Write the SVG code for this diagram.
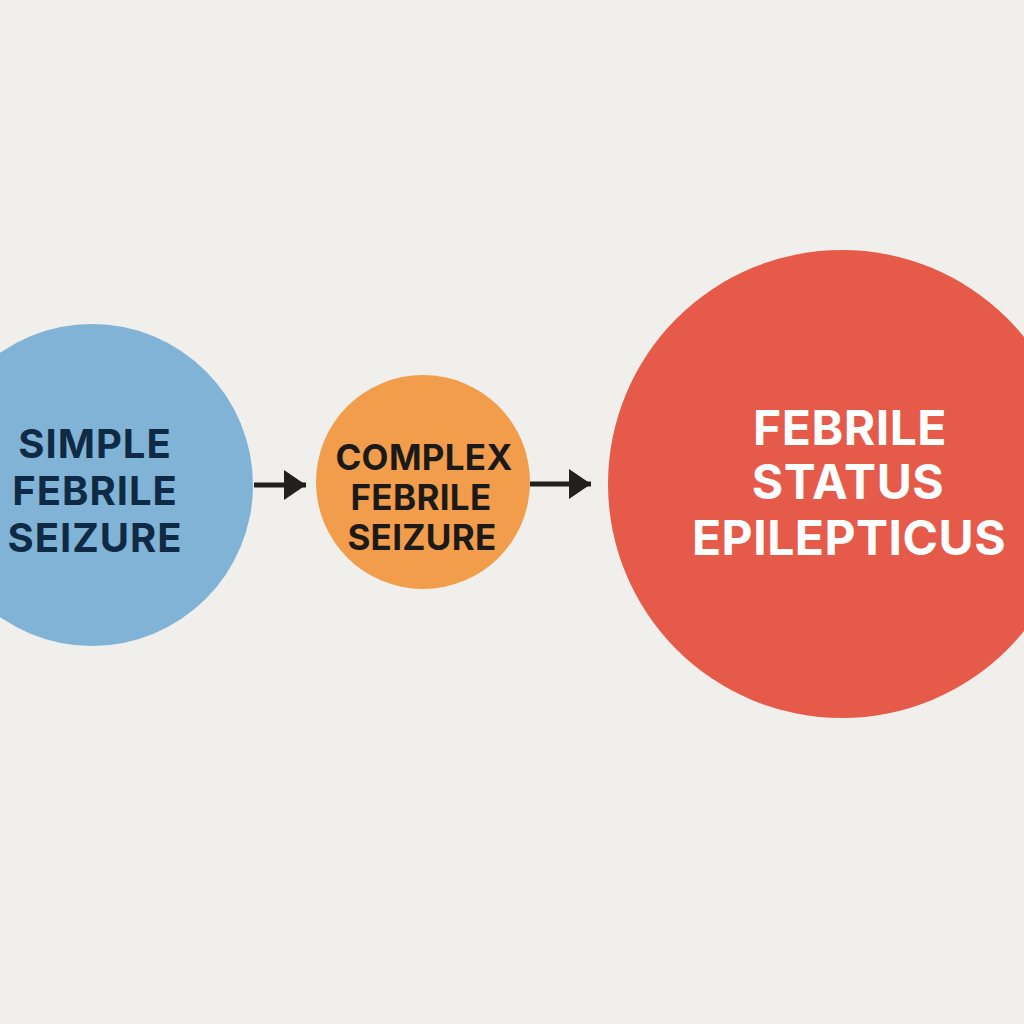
<svg xmlns="http://www.w3.org/2000/svg" width="1024" height="1024" viewBox="0 0 1024 1024">
<style>
.lbl{font-family:Inter,"Liberation Sans",sans-serif;font-weight:700;text-anchor:middle}
.conn{stroke:#231f1d;stroke-width:5;fill:none}
</style>
<defs>
<marker id="ah" viewBox="0 0 10 10" refX="10" refY="5" markerWidth="4.4" markerHeight="6" markerUnits="strokeWidth" orient="auto" preserveAspectRatio="none">
<path d="M0,0 L10,5 L0,10 z" fill="#231f1d"/>
</marker>
</defs>
<rect width="1024" height="1024" fill="#f1efec"/>
<g id="connectors">
<line class="conn" x1="254" y1="485" x2="306" y2="485" marker-end="url(#ah)"/>
<line class="conn" x1="530" y1="484" x2="591" y2="484" marker-end="url(#ah)"/>
</g>
<g id="simple">
<circle cx="92" cy="485" r="161" fill="#80b3d6"/>
<text class="lbl" font-size="40" fill="#0f2a44" letter-spacing="1"><tspan x="95" y="458">SIMPLE</tspan><tspan x="95" y="505">FEBRILE</tspan><tspan x="95" y="552">SEIZURE</tspan></text>
</g>
<g id="complex">
<circle cx="423" cy="482" r="107" fill="#f29d4b"/>
<text class="lbl" font-size="35" fill="#1c1a18" letter-spacing="0.3"><tspan x="424" y="470">COMPLEX</tspan><tspan x="421" y="510">FEBRILE</tspan><tspan x="422" y="550">SEIZURE</tspan></text>
</g>
<g id="status">
<circle cx="842" cy="484" r="234" fill="#e65a4a"/>
<text class="lbl" font-size="48" fill="#ffffff" letter-spacing="0.5"><tspan x="850" y="445">FEBRILE</tspan><tspan x="848" y="499">STATUS</tspan><tspan x="849" y="555">EPILEPTICUS</tspan></text>
</g>
</svg>
